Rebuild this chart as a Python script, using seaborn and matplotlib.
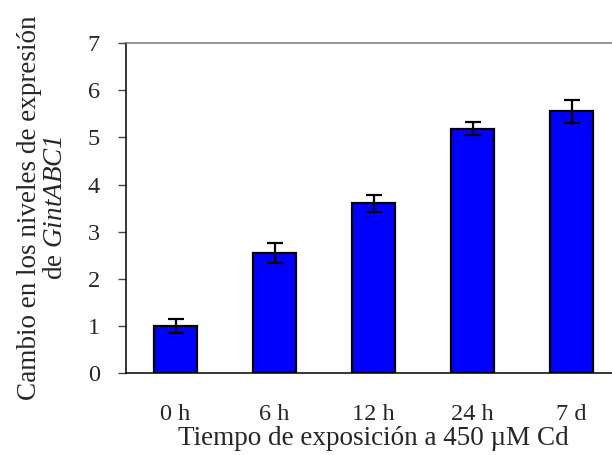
import numpy as np
import pandas as pd
import matplotlib
matplotlib.use("Agg")
import matplotlib.pyplot as plt
import seaborn as sns

# data
categories = ["0 h", "6 h", "12 h", "24 h", "7 d"]
expression = [1.00, 2.55, 3.60, 5.18, 5.55]
errors = [0.14, 0.21, 0.18, 0.14, 0.25]

sns.set_style("white")
plt.rcParams["font.family"] = ["Liberation Serif", "DejaVu Serif"]
# gene name in italics (digits too) through mathtext
plt.rcParams["mathtext.fontset"] = "custom"
plt.rcParams["mathtext.rm"] = "Liberation Serif:italic"
plt.rcParams["mathtext.it"] = "Liberation Serif:italic"

df = pd.DataFrame({"Tiempo": categories, "Cambio": expression})

fig = plt.figure(figsize=(6.12, 4.55), dpi=100)
ax = fig.add_axes([0.206, 0.180, 0.809, 0.7253])

sns.barplot(data=df, x="Tiempo", y="Cambio", color="#0000ff", saturation=1,
            width=0.43, edgecolor="black", linewidth=1.6, errorbar=None, ax=ax)
ax.errorbar(np.arange(len(categories)), expression, yerr=errors, fmt="none",
            ecolor="black", elinewidth=1.6, capsize=5.5, capthick=1.6)

ax.set_xlim(-0.5, len(categories) - 0.5)
ax.set_ylim(0, 7)
ax.set_yticks(range(0, 8))

# category ticks sit between the bars
ax.set_xticks(np.arange(len(categories) + 1) - 0.5, minor=True)
ax.tick_params(axis="x", which="major", length=0, pad=22, labelsize=17.5)
ax.tick_params(axis="x", which="minor", direction="out", length=6, width=1, color="#444444")
ax.tick_params(axis="y", direction="out", length=6, width=1, pad=13,
               labelsize=17.5, color="#444444", left=True)

for side in ["left", "bottom"]:
    ax.spines[side].set_color("black")
    ax.spines[side].set_linewidth(1.1)
ax.spines["top"].set_color("#777777")
ax.spines["top"].set_linewidth(1.1)
ax.spines["right"].set_visible(False)

ax.set_xlabel("Tiempo de exposición a 450 µM Cd", fontsize=19.5, labelpad=1)
ax.set_ylabel("Cambio en los niveles de expresión\nde $\\mathrm{GintABC1}$",
              fontsize=19.5, labelpad=14, linespacing=1.05)

fig.savefig("out.png", dpi=100)
